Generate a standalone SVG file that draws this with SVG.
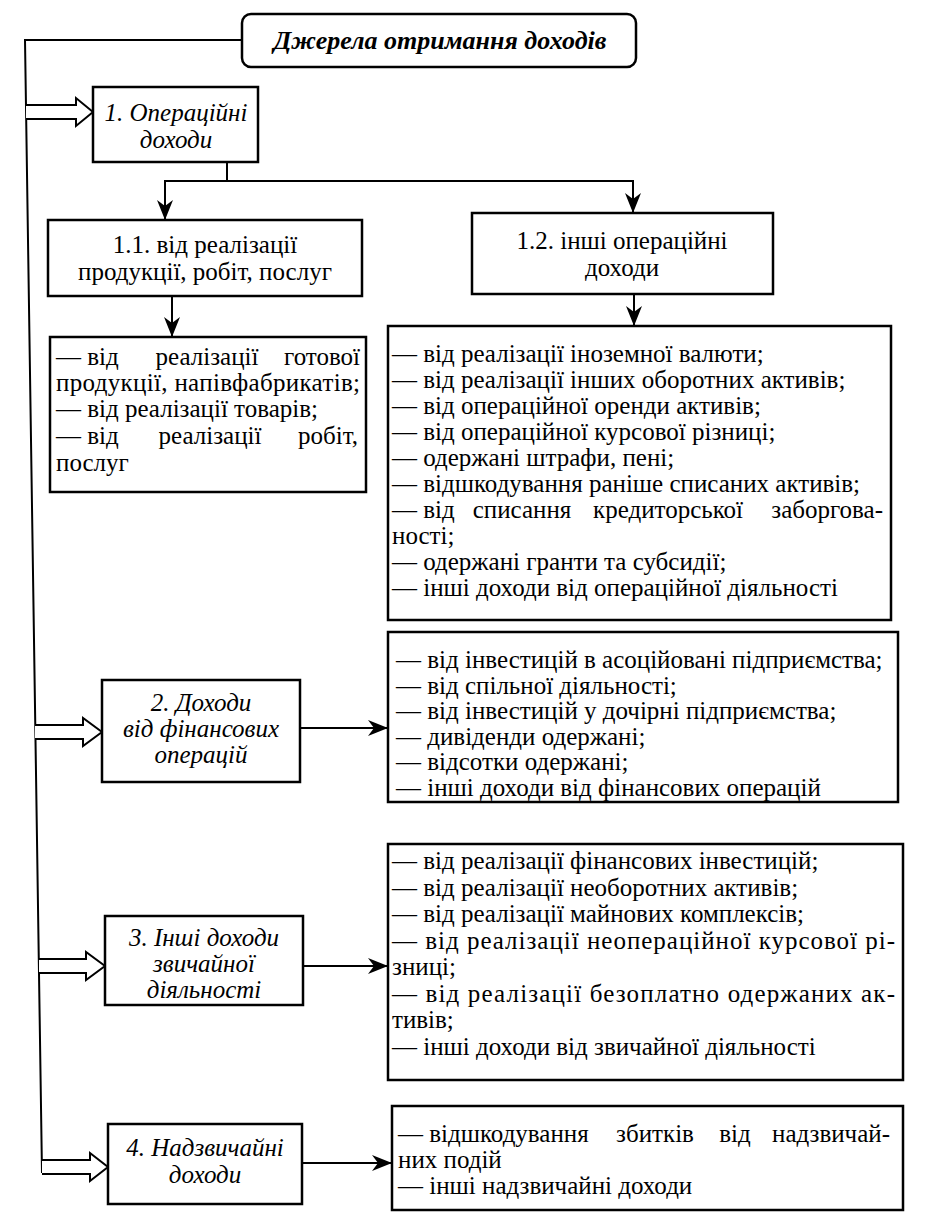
<svg xmlns="http://www.w3.org/2000/svg" width="925" height="1224" viewBox="0 0 925 1224">
<defs>
<style>
.box{fill:#fff;stroke:#000;stroke-width:2.5}
.t{font-family:"Liberation Serif","Times New Roman",serif;font-size:25px;fill:#000}
.c{text-anchor:middle}
.e{text-anchor:end}
.i{font-style:italic}
.ti{font-style:italic;font-weight:bold;font-size:26px}
.conn{fill:none;stroke:#000;stroke-width:2}
.hollow{fill:#fff;stroke:#000;stroke-width:2;stroke-linejoin:miter}
</style>
<marker id="ah" markerWidth="20" markerHeight="16" refX="20" refY="8" orient="auto" markerUnits="userSpaceOnUse">
<path d="M0,0 L20,8 L0,16 L6,8 z" fill="#000"/>
</marker>
</defs>
<rect width="925" height="1224" fill="#fff"/>

<g id="connectors">
<path class="conn" d="M242,40 H25 L42,1173"/>
<path class="hollow" d="M26,105 H76 V98 L93,112 L76,126 V119 H26"/>
<path class="hollow" d="M35,725 H83 V718 L102,732 L83,746 V739 H35"/>
<path class="hollow" d="M39,959 H86 V952 L105,966 L86,980 V973 H39"/>
<path class="hollow" d="M42,1160 H90 V1153 L108,1167 L90,1181 V1174 H42"/>
<path class="conn" d="M227,162 V181 H165 V220" marker-end="url(#ah)"/>
<path class="conn" d="M227,181 H633 V213" marker-end="url(#ah)"/>
<path class="conn" d="M172,296 V337" marker-end="url(#ah)"/>
<path class="conn" d="M634,294 V326" marker-end="url(#ah)"/>
<path class="conn" d="M301,728 H388" marker-end="url(#ah)"/>
<path class="conn" d="M303,966 H388" marker-end="url(#ah)"/>
<path class="conn" d="M302,1163 H392" marker-end="url(#ah)"/>
</g>

<g id="title">
<rect class="box" x="242" y="14" width="394" height="53" rx="9"/>
<text class="t ti c" x="440" y="49">Джерела отримання доходів</text>
</g>

<g id="n1">
<rect class="box" x="93" y="87" width="165" height="75"/>
<text class="t i c" x="176" y="121">1. Операційні</text>
<text class="t i c" x="176" y="148">доходи</text>
</g>

<g id="n11">
<rect class="box" x="48" y="220" width="314" height="76"/>
<text class="t c" x="205" y="253">1.1. від реалізації</text>
<text class="t c" x="205" y="280">продукції, робіт, послуг</text>
</g>

<g id="n12">
<rect class="box" x="472" y="213" width="301" height="81"/>
<text class="t c" x="622" y="249">1.2. інші операційні</text>
<text class="t c" x="622" y="276">доходи</text>
</g>

<g id="l11">
<rect class="box" x="50" y="337" width="316" height="155"/>
<text class="t" x="56" y="365">— від</text>
<text class="t c" x="207" y="365">реалізації</text>
<text class="t e" x="360" y="365">готової</text>
<text class="t" x="56" y="391" textLength="304" lengthAdjust="spacing">продукції, напівфабрикатів;</text>
<text class="t" x="56" y="417">— від реалізації товарів;</text>
<text class="t" x="56" y="444">— від</text>
<text class="t c" x="210" y="444">реалізації</text>
<text class="t e" x="358" y="444">робіт,</text>
<text class="t" x="56" y="471">послуг</text>
</g>

<g id="l12">
<rect class="box" x="388" y="326" width="503" height="294"/>
<text class="t" x="392" y="362">— від реалізації іноземної валюти;</text>
<text class="t" x="392" y="388">— від реалізації інших оборотних активів;</text>
<text class="t" x="392" y="414">— від операційної оренди активів;</text>
<text class="t" x="392" y="440">— від операційної курсової різниці;</text>
<text class="t" x="392" y="466">— одержані штрафи, пені;</text>
<text class="t" x="392" y="492">— відшкодування раніше списаних активів;</text>
<text class="t" x="392" y="518">— від</text>
<text class="t c" x="522" y="518">списання</text>
<text class="t c" x="668" y="518">кредиторської</text>
<text class="t e" x="883" y="518">заборгова-</text>
<text class="t" x="392" y="544">ності;</text>
<text class="t" x="392" y="570">— одержані гранти та субсидії;</text>
<text class="t" x="392" y="596">— інші доходи від операційної діяльності</text>
</g>

<g id="n2">
<rect class="box" x="102" y="680" width="198" height="102"/>
<text class="t i c" x="201" y="711">2. Доходи</text>
<text class="t i c" x="201" y="737">від фінансових</text>
<text class="t i c" x="201" y="763">операцій</text>
</g>

<g id="l2">
<rect class="box" x="388" y="632" width="510" height="170"/>
<text class="t" x="396" y="668">— від інвестицій в асоційовані підприємства;</text>
<text class="t" x="396" y="693.5">— від спільної діяльності;</text>
<text class="t" x="396" y="719">— від інвестицій у дочірні підприємства;</text>
<text class="t" x="396" y="744.5">— дивіденди одержані;</text>
<text class="t" x="396" y="770">— відсотки одержані;</text>
<text class="t" x="396" y="795.5">— інші доходи від фінансових операцій</text>
</g>

<g id="n3">
<rect class="box" x="105" y="916" width="198" height="89"/>
<text class="t i c" x="204" y="946">3. Інші доходи</text>
<text class="t i c" x="204" y="972">звичайної</text>
<text class="t i c" x="204" y="998">діяльності</text>
</g>

<g id="l3">
<rect class="box" x="388" y="844" width="515" height="236"/>
<text class="t" x="392" y="869">— від реалізації фінансових інвестицій;</text>
<text class="t" x="392" y="895.5">— від реалізації необоротних активів;</text>
<text class="t" x="392" y="922">— від реалізації майнових комплексів;</text>
<text class="t" x="392" y="948.5" textLength="503" lengthAdjust="spacing">— від реалізації неопераційної курсової рі-</text>
<text class="t" x="392" y="975">зниці;</text>
<text class="t" x="392" y="1001.5" textLength="503" lengthAdjust="spacing">— від реалізації безоплатно одержаних ак-</text>
<text class="t" x="392" y="1028">тивів;</text>
<text class="t" x="392" y="1054.5">— інші доходи від звичайної діяльності</text>
</g>

<g id="n4">
<rect class="box" x="108" y="1124" width="194" height="80"/>
<text class="t i c" x="205" y="1156">4. Надзвичайні</text>
<text class="t i c" x="205" y="1183">доходи</text>
</g>

<g id="l4">
<rect class="box" x="392" y="1106" width="511" height="104"/>
<text class="t" x="398" y="1142">— відшкодування</text>
<text class="t c" x="655" y="1142">збитків</text>
<text class="t c" x="735" y="1142">від</text>
<text class="t e" x="890" y="1142">надзвичай-</text>
<text class="t" x="398" y="1168">них подій</text>
<text class="t" x="398" y="1194">— інші надзвичайні доходи</text>
</g>
</svg>
